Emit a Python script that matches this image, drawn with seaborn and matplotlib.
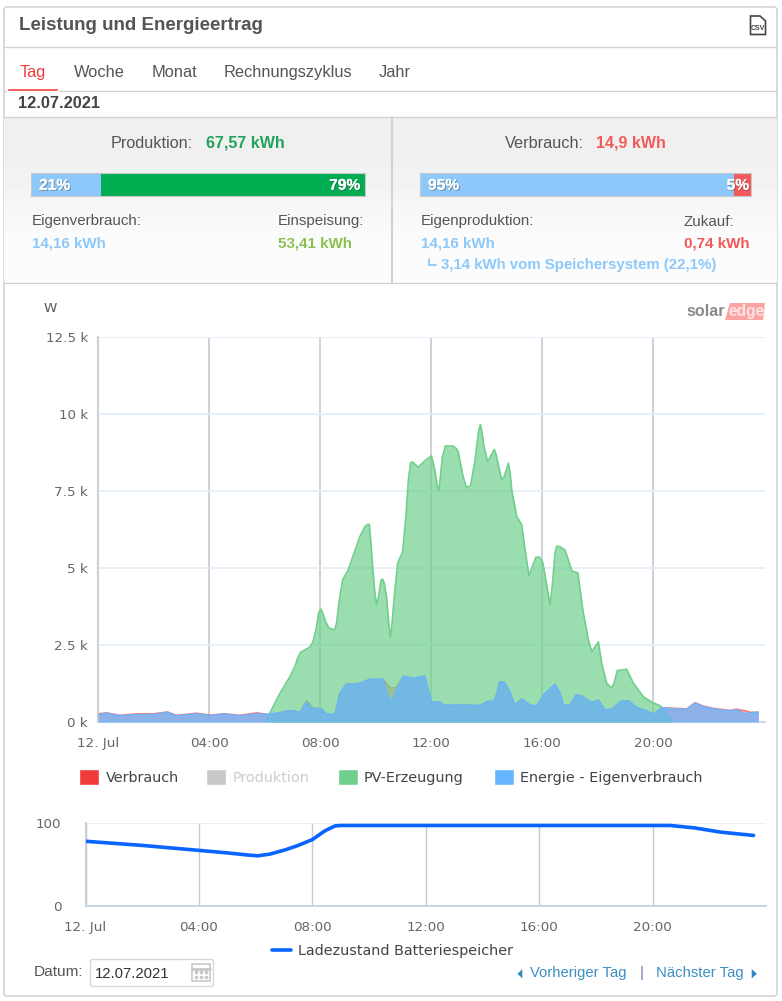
import matplotlib
matplotlib.use("Agg")
import matplotlib.pyplot as plt
import matplotlib.patheffects as pe
from matplotlib.patches import Rectangle, FancyBboxPatch, Polygon
import pandas as pd
import seaborn as sns

# hours of day and readings, kW
pv_hours = [6.05, 6.19, 6.55, 6.91, 7.09, 7.2, 7.3, 7.45, 7.63, 7.74, 7.85, 7.95, 8.02, 8.09, 8.2, 8.32, 8.53, 8.6,
            8.68, 8.81, 9.01, 9.43, 9.61, 9.72, 9.77, 9.83, 9.89, 9.97, 10.03, 10.1, 10.19, 10.25, 10.31, 10.39,
            10.47, 10.53, 10.59, 10.67, 10.79, 10.97, 11.09, 11.18, 11.26, 11.33, 11.53, 11.8, 12.01, 12.13, 12.21,
            12.27, 12.32, 12.4, 12.51, 12.79, 12.9, 12.97, 13.15, 13.27, 13.35, 13.42, 13.58, 13.7, 13.77, 13.83,
            13.9, 14.03, 14.15, 14.27, 14.33, 14.54, 14.62, 14.78, 14.84, 14.9, 15.08, 15.26, 15.38, 15.52, 15.6,
            15.77, 15.9, 16.01, 16.15, 16.28, 16.36, 16.46, 16.52, 16.64, 16.82, 17.07, 17.28, 17.46, 17.66, 17.78,
            17.9, 18.02, 18.14, 18.32, 18.5, 18.6, 18.7, 19.04, 19.28, 19.64, 19.97, 20.24, 20.72]
pv_power = [0.0, 0.29, 0.93, 1.47, 1.8, 2.1, 2.27, 2.34, 2.43, 2.6, 3.0, 3.55, 3.67, 3.55, 3.25, 3.05, 2.99, 3.25,
            3.9, 4.61, 4.94, 6.02, 6.34, 6.42, 6.41, 5.8, 5.04, 4.2, 3.8, 4.05, 4.6, 4.64, 4.5, 4.07,
            3.2, 2.75, 3.2, 4.07, 5.15, 5.53, 6.67, 7.9, 8.42, 8.44, 8.27, 8.5, 8.64, 8.18, 7.7,
            7.51, 7.85, 8.6, 8.96, 8.96, 8.88, 8.78, 7.96, 7.62, 7.64, 7.69, 8.51, 9.4, 9.66, 9.4,
            8.94, 8.45, 8.65, 8.85, 8.7, 7.86, 7.95, 8.4, 8.1, 7.53, 6.67, 6.4, 5.58, 4.75, 4.95,
            5.35, 5.35, 5.2, 4.5, 3.8, 4.4, 5.5, 5.71, 5.69, 5.58, 4.9, 4.84, 3.64, 2.66, 2.28,
            2.45, 2.6, 1.9, 1.26, 1.1, 1.3, 1.67, 1.71, 1.26, 0.82, 0.63, 0.53, 0.0]

self_hours = [0.01, 0.31, 0.79, 1.39, 2.0, 2.5, 2.83, 3.55, 4.03, 4.57, 5.1, 5.71, 6.13, 6.55, 6.79, 7.03, 7.27,
              7.51, 7.72, 8.05, 8.23, 8.53, 8.71, 8.93, 9.43, 9.79, 10.27, 10.39, 10.53, 10.75, 10.99, 11.35, 11.77,
              11.89, 12.01, 12.31, 12.49, 13.03, 13.75, 13.99, 14.29, 14.47, 14.65, 14.83, 15.01, 15.26, 15.56, 15.8,
              16.04, 16.46, 16.64, 16.76, 17.0, 17.21, 17.41, 17.78, 18.02, 18.26, 18.5, 18.86, 19.1, 19.4, 19.76,
              20.02, 20.3, 20.48, 21.2, 21.5, 21.8, 22.2, 22.76, 23.0, 23.3, 23.48, 23.78]
self_power = [0.23, 0.29, 0.2, 0.24, 0.24, 0.32, 0.2, 0.27, 0.21, 0.26, 0.2, 0.27, 0.25, 0.3, 0.36, 0.37, 0.31,
              0.63, 0.43, 0.43, 0.26, 0.24, 0.93, 1.22, 1.26, 1.39, 1.39, 0.98, 0.63, 1.04, 1.49, 1.42, 1.5,
              1.04, 0.65, 0.65, 0.54, 0.55, 0.54, 0.65, 0.71, 1.31, 1.28, 0.98, 0.55, 0.75, 0.55, 0.52,
              0.88, 1.23, 0.94, 0.55, 0.55, 0.88, 0.85, 0.63, 0.71, 0.39, 0.42, 0.69, 0.69, 0.47, 0.36,
              0.25, 0.47, 0.44, 0.41, 0.61, 0.5, 0.42, 0.36, 0.4, 0.26, 0.3, 0.32]
# consumption follows self use except where it rises above it
use_power = [0.27, 0.3, 0.22, 0.27, 0.27, 0.33, 0.22, 0.29, 0.23, 0.27, 0.22, 0.3, 0.25, 0.3, 0.36, 0.37, 0.31,
             0.7, 0.47, 0.43, 0.26, 0.24, 0.93, 1.22, 1.26, 1.39, 1.39, 1.25, 1.1, 1.12, 1.49, 1.42, 1.5,
             1.04, 0.65, 0.65, 0.54, 0.55, 0.54, 0.65, 0.71, 1.31, 1.28, 0.98, 0.55, 0.75, 0.55, 0.52,
             0.88, 1.23, 0.94, 0.55, 0.55, 0.88, 0.85, 0.63, 0.71, 0.39, 0.42, 0.69, 0.69, 0.47, 0.36,
             0.25, 0.47, 0.46, 0.43, 0.63, 0.52, 0.44, 0.38, 0.42, 0.37, 0.32, 0.32]

soc_hours = [0.0, 2.0, 4.0, 5.0, 5.7, 6.07, 6.5, 7.05, 7.5, 8.0, 8.45, 8.8, 9.0, 9.5, 12.0, 16.0, 20.63, 21.5, 22.4, 23.56]
soc_values = [78, 73, 67, 64, 61.5, 60.5, 62.5, 67.7, 73, 80, 90.7, 96.5, 97, 97, 97, 97, 97, 94, 89, 85]

time_ticks = [0, 4, 8, 12, 16, 20]
time_labels = ["12. Jul", "04:00", "08:00", "12:00", "16:00", "20:00"]
power_ticks = [0, 2.5, 5, 7.5, 10, 12.5]
power_labels = ["0 k", "2.5 k", "5 k", "7.5 k", "10 k", "12.5 k"]
legend_names = ["Verbrauch", "Produktion", "PV-Erzeugung", "Energie - Eigenverbrauch"]
prod_split = [21, 79]
use_split = [95, 5]

sns.set_theme(style="white")
plt.rcParams["font.family"] = ["Liberation Sans", "DejaVu Sans"]

W, H = 782, 1001
fig = plt.figure(figsize=(W / 100, H / 100), dpi=100)


def axes_px(left, top, right, bottom, **kw):
    return fig.add_axes([left / W, 1 - bottom / H, (right - left) / W, (bottom - top) / H], **kw)


# page furniture in pixel coordinates
page = axes_px(0, 0, W, H)
page.axis("off")
page.add_patch(FancyBboxPatch((4, 7), 773, 989, boxstyle="round,pad=0,rounding_size=3", fc="white", ec="#cccccc", lw=1))
page.imshow([[0.94], [0.985]], extent=(4, 777, 282, 117), cmap="gray", vmin=0, vmax=1, aspect="auto",
            interpolation="bilinear", zorder=1)
page.set_xlim(0, W)
page.set_ylim(H, 0)
for y in [46.5, 90.5, 116.5, 282.5]:
    page.plot([4, 777], [y, y], color="#d2d2d2", lw=1, zorder=2)
page.plot([392, 392], [117, 282], color="#d2d2d2", lw=1.5, zorder=2)
page.add_patch(Rectangle((7, 88), 51, 2.8, fc="#f03a3a", zorder=3))


def txt(x, y, s, color="#555555", size=10.6, weight="normal", ha="left", **kw):
    page.text(x, y, s, color=color, fontsize=size, fontweight=weight, ha=ha, va="center", zorder=5, **kw)


txt(19, 26, "Leistung und Energieertrag", "#555555", 13.5, "bold")
for x, s, c in zip([20, 73.5, 151.5, 224, 379],
                   ["Tag", "Woche", "Monat", "Rechnungszyklus", "Jahr"],
                   ["#f03a3a", "#555555", "#555555", "#555555", "#555555"]):
    txt(x, 72.5, s, c, 11.75)
txt(18, 103.5, "12.07.2021", "#444444", 11.8, "bold")

txt(111, 143, "Produktion:", "#555555", 11.7)
txt(206, 143, "67,57 kWh", "#1fa35a", 11.55, "bold")
txt(505, 143, "Verbrauch:", "#555555", 11.7)
txt(596, 143, "14,9 kWh", "#f25a5a", 11.55, "bold")
txt(32, 221.5, "Eigenverbrauch:", "#555555", 10.9)
txt(32, 243.5, "14,16 kWh", "#8cc8fa", 10.9, "bold")
txt(277.5, 221.5, "Einspeisung:", "#555555", 10.9)
txt(277.5, 243.5, "53,41 kWh", "#8cc152", 10.9, "bold")
txt(421, 221.5, "Eigenproduktion:", "#555555", 10.9)
txt(421, 243.5, "14,16 kWh", "#8cc8fa", 10.9, "bold")
txt(684, 221.5, "Zukauf:", "#555555", 10.9)
txt(684, 243.5, "0,74 kWh", "#f25a5a", 10.9, "bold")
page.plot([428.5, 428.5, 436], [259, 264.5, 264.5], color="#8cc8fa", lw=1.3, zorder=5)
txt(441, 265.5, "3,14 kWh vom Speichersystem (22,1%)", "#8cc8fa", 10.85, "bold")

# csv icon
page.add_patch(Polygon([(750.5, 16), (760, 16), (765.5, 21), (765.5, 34.5), (750.5, 34.5)], closed=True, fc="white", ec="#444444", lw=1.2, zorder=5))
txt(758, 28.5, "CSV", "#444444", 5, "bold", ha="center")

# logo
txt(686, 311.5, "solar", "#8a8a8a", 11.6, "bold")
page.add_patch(Polygon([(725, 320), (730, 303), (765, 303), (763, 320)], closed=True, fc="#fba3a3", lw=0, zorder=4))
txt(728, 311.5, "edge", "#fde3e3", 11.2, "bold")

# date row
txt(34, 972, "Datum:", "#555555", 11.1)
page.add_patch(FancyBboxPatch((90.5, 959.5), 123, 27, boxstyle="round,pad=0,rounding_size=2", fc="white", ec="#d8d8d8", lw=1, zorder=4))
txt(95, 973.5, "12.07.2021", "#333333", 10.7)
page.add_patch(Rectangle((192, 964), 18, 17, fc="white", ec="#c8c8c8", lw=1.2, zorder=5))
page.plot([192, 210], [968.5, 968.5], color="#c8c8c8", lw=2, zorder=5)
page.plot([196, 201, 206, 196, 201, 206], [972, 972, 972, 976.5, 976.5, 976.5], ls="", marker="s", ms=1.6, color="#c8c8c8", zorder=5)
txt(530, 973.5, "Vorheriger Tag", "#3b8fc4", 10.7)
txt(640, 973.5, "|", "#8a6fb0", 10.7)
txt(656, 973.5, "Nächster Tag", "#3b8fc4", 10.7)
page.add_patch(Polygon([(523, 967.5), (523, 980), (516.5, 973.8)], closed=True, fc="#2b88c0", zorder=5))
page.add_patch(Polygon([(751, 967.5), (751, 980), (758, 973.8)], closed=True, fc="#2b88c0", zorder=5))


def split_bar(left, top, right, bottom, values, colors, right_margin):
    ax = axes_px(left, top, right, bottom)
    ax.set_zorder(3)
    ax.barh([0], [values[0]], height=1, color=colors[0], lw=0)
    ax.barh([0], [values[1]], left=[values[0]], height=1, color=colors[1], lw=0)
    ax.set_xlim(0, sum(values))
    ax.set_ylim(-0.5, 0.5)
    ax.set_xticks([])
    ax.set_yticks([])
    for s in ax.spines.values():
        s.set_color("#c8c8c8")
        s.set_linewidth(0.8)
    shadow = [pe.withSimplePatchShadow(offset=(0.8, -0.8), shadow_rgbFace="#555555", alpha=0.5), pe.Normal()]
    width = right - left
    ax.text(8.5 / width, 0.47, f"{values[0]}%", transform=ax.transAxes, color="white", fontsize=11.2,
            fontweight="bold", va="center", path_effects=shadow)
    ax.text(1 - right_margin / width, 0.47, f"{values[1]}%", transform=ax.transAxes, color="white", fontsize=11.2,
            fontweight="bold", va="center", ha="right", path_effects=shadow)


split_bar(30.5, 173, 365, 196, prod_split, ["#8cc8fa", "#00ad50"], 5)
split_bar(419.5, 173, 751, 196, use_split, ["#8cc8fa", "#f25a5a"], 2)

axis_font = dict(family=["DejaVu Sans"], fontsize=9.7, color="#666666")

# main power chart
pv = pd.DataFrame({"hour": pv_hours, "kw": pv_power})
own = pd.DataFrame({"hour": self_hours, "kw": self_power, "use": use_power})

ax = axes_px(98, 337, 765, 722)
ax.patch.set_alpha(0)
ax.fill_between(own["hour"], own["use"], color="#f23a3a", alpha=0.45, lw=0, zorder=2)
ax.fill_between(pv["hour"], pv["kw"], color="#6fcf8c", alpha=0.7, lw=0, zorder=3)
ax.fill_between(own["hour"], own["kw"], color="#66b5ff", alpha=0.75, lw=0, zorder=4)
sns.lineplot(data=own, x="hour", y="use", color="#f24a4a", lw=1, alpha=0.7, ax=ax, zorder=2.5, errorbar=None, legend=False)
sns.lineplot(data=pv, x="hour", y="kw", color="#6fcf8c", lw=1.2, ax=ax, zorder=3.5, errorbar=None, legend=False)
sns.lineplot(data=own, x="hour", y="kw", color="#66b5ff", lw=1, ax=ax, zorder=4.5, errorbar=None, legend=False)
ax.set_xlim(0, 24.02)
ax.set_ylim(0, 12.5)
ax.set_xticks(time_ticks, time_labels, **axis_font)
ax.set_yticks(power_ticks, power_labels, **axis_font)
ax.set_xlabel("")
ax.set_ylabel("")
ax.grid(axis="y", color="#e2edf7", lw=1.2, zorder=0)
ax.grid(axis="x", color="#c6cbd2", lw=1.2, zorder=1)
ax.set_axisbelow(True)
ax.tick_params(axis="x", length=8, width=1, color="#c0d0e0", pad=3)
ax.tick_params(axis="y", length=4.3, width=1, color="#e2edf7", pad=2.9)
sns.despine(ax=ax, top=True, right=True)
ax.spines["left"].set_color("#d0d0d0")
ax.spines["left"].set_linewidth(1.5)
ax.spines["bottom"].set_color("#c0d0e0")
ax.spines["bottom"].set_linewidth(1.2)
txt(44, 308, "W", "#555555", 9.7, family=["DejaVu Sans"])

# legend swatches, laid out by hand like the original
for x, tx, name, col, tc in zip([78.5, 205.5, 337.5, 493.5], [106, 233, 364, 520], legend_names,
                                ["#f23a3a", "#c8c8c8", "#6fcf8c", "#66b5ff"],
                                ["#444444", "#cccccc", "#444444", "#444444"]):
    page.add_patch(Rectangle((x, 769), 20, 16, fc=col, zorder=5))
    txt(tx, 778, name, tc, 10.35, family=["DejaVu Sans"])

# state of charge chart
soc = pd.DataFrame({"hour": soc_hours, "pct": soc_values})
ax2 = axes_px(85.5, 823, 766, 906)
ax2.patch.set_alpha(0)
sns.lineplot(data=soc, x="hour", y="pct", color="#0a64ff", lw=2.6, ax=ax2, errorbar=None, legend=False, zorder=4)
ax2.set_xlim(0, 24)
ax2.set_ylim(0, 100)
ax2.set_xticks(time_ticks, time_labels, **axis_font)
ax2.set_yticks([0, 100], ["0", "100"], **axis_font)
ax2.set_xlabel("")
ax2.set_ylabel("")
ax2.grid(axis="y", color="#e2edf7", lw=1.2)
ax2.grid(axis="x", color="#c6cbd2", lw=1)
ax2.set_axisbelow(True)
ax2.tick_params(axis="x", length=8, width=1, color="#c0d0e0", pad=3)
ax2.tick_params(axis="y", length=3.6, width=1, color="#e2edf7", pad=13.7)
sns.despine(ax=ax2, top=True, right=True)
ax2.spines["left"].set_color("#c6cbd2")
ax2.spines["bottom"].set_color("#c0d0e0")
ax2.spines["bottom"].set_linewidth(1.2)

page.plot([272, 291], [950, 950], color="#0a64ff", lw=2.6, zorder=5)
txt(298, 950.5, "Ladezustand Batteriespeicher", "#444444", 10.35, family=["DejaVu Sans"])

fig.savefig("out.png", dpi=100)
